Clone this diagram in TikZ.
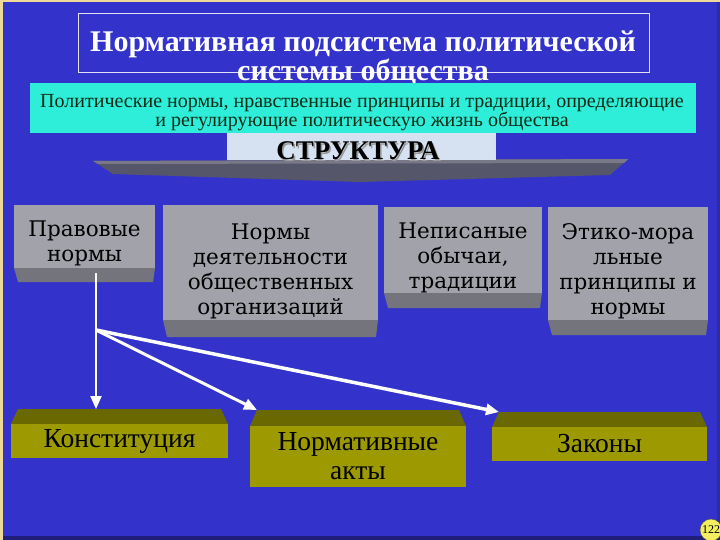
\documentclass[tikz,border=0pt]{standalone}
\usepackage{fontspec}
\setmainfont{Liberation Serif}
\newfontfamily\boxfont{DejaVu Serif}
\usetikzlibrary{arrows.meta,calc}
\definecolor{bgblue}{HTML}{3333CC}
\definecolor{tanedge}{HTML}{EED89A}
\definecolor{aqua}{HTML}{2EEEDA}
\definecolor{greyface}{HTML}{A2A2AA}
\definecolor{greybev}{HTML}{74747C}
\definecolor{oliveface}{HTML}{9C9A00}
\definecolor{olivebev}{HTML}{6A6800}
\definecolor{structbox}{HTML}{D6E2F2}
\definecolor{slab}{HTML}{56566A}
\definecolor{aquatext}{HTML}{0A2A12}
\definecolor{badge}{HTML}{F2EE60}
\newcommand\gbox[7]{%
  \fill[greyface] (#2,#3) rectangle (#4,#5);
  \fill[greybev] (#2,#5) -- (#4,#5) -- (#4-2,#6) -- (#2+4,#6) -- cycle;
  \node[gtext] (#1) at ({(#2+#4)/2},{(#3+#6)/2}) {#7};
}
\newcommand\obox[7]{%
  \fill[olivebev] (#2+7,#3) -- (#4-7,#3) -- (#4,#5) -- (#2,#5) -- cycle;
  \fill[oliveface] (#2,#5) rectangle (#4,#6);
  \node[otext] (#1) at ({(#2+#4)/2},{(#5+#6)/2}) {#7};
  \coordinate (#1-tl) at (#2+7,#3);
}
\begin{document}
\begin{tikzpicture}[x=1pt,y=-1pt,
  gtext/.style={align=center, inner sep=0pt, text=black, font=\boxfont\fontsize{21.5}{25}\selectfont},
  otext/.style={align=center, inner sep=0pt, text=black, font=\fontsize{27.5}{29}\selectfont},
  link/.style={draw=white, line width=2pt, -{Triangle[length=13pt,width=11pt]}},
]
\useasboundingbox (0,0) rectangle (720,540);
% background
\fill[tanedge] (0,0) rectangle (720,540);
\fill[bgblue] (2.5,2.5) rectangle (720,537);
\fill[bgblue!85!black] (717,2.5) rectangle (720,537);
\fill[bgblue!60!black] (2.5,536) rectangle (720,540);
% title
\draw[white!85!bgblue, line width=0.8pt] (78,13) rectangle (649,72);
\node[align=center, text=white, inner sep=0pt, font=\bfseries\fontsize{30}{25}\selectfont] (title) at (363,58) {Нормативная подсистема политической\\системы общества};
% definition
\node[fill=aqua, minimum width=666pt, minimum height=50pt, inner sep=0pt] (defbox) at (363,108) {};
\node[align=center, text=aquatext, inner sep=0pt, font=\fontsize{20}{19}\selectfont] (deftext) at (362,113) {Политические нормы, нравственные принципы и традиции, определяющие\\и регулирующие политическую жизнь общества};
% structure
\fill[slab] (93,161) -- (628,159) -- (610,175) -- (360,182) -- (113,174) -- cycle;
\fill[slab!80!white] (93,161) -- (628,159) -- (624,163) -- (98,164) -- cycle;
\node[fill=structbox, minimum width=269pt, minimum height=27pt, inner sep=0pt] (structbg) at (361,146.5) {};
\node[text=black!40, inner sep=0pt, font=\bfseries\fontsize{27}{27}\selectfont] at (359.5,152.5) {СТРУКТУРА};
\node[text=black, inner sep=0pt, font=\bfseries\fontsize{27}{27}\selectfont] (struct) at (358,151) {СТРУКТУРА};
% grey boxes
\gbox{A}{14}{205}{155}{268}{282}{Правовые\\нормы}
\gbox{B}{163}{205}{378}{320}{337}{Нормы\\деятельности\\общественных\\организаций}
\gbox{C}{384}{207}{542}{293}{308}{Неписаные\\обычаи,\\традиции}
\gbox{D}{548}{207}{708}{320}{335}{Этико-мора\\льные\\принципы и\\нормы}
% olive boxes
\obox{K}{11}{409}{228}{424}{458}{Конституция}
\obox{N}{250}{410}{466}{426}{487}{Нормативные\\акты}
\obox{Z}{492}{412}{707}{427}{461}{Законы}
% connectors
\coordinate (start) at (96,273);
\coordinate (junc) at (96,330);
\draw[link] (start) -- (start |- K-tl);
\draw[link, line width=3pt] (junc) -- (N-tl);
\draw[link, line width=3.5pt] (junc) -- (Z-tl);
% page badge
\node[circle, fill=badge, draw=black!70, line width=0.4pt, minimum size=22pt, inner sep=0pt, font=\fontsize{12}{12}\selectfont] (page) at (711,530) {122};
\end{tikzpicture}
\end{document}
